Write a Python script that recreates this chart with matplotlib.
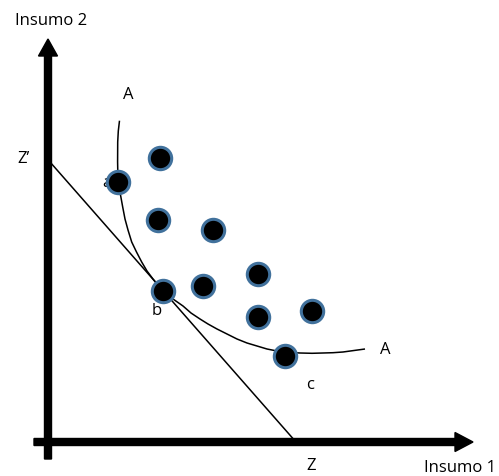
import matplotlib
matplotlib.use("Agg")
import matplotlib.pyplot as plt
from matplotlib.patches import FancyArrow

# --- data (diagram coordinates; y grows downward) ---
dot_x = [160, 118, 158, 213, 258, 203, 163, 258, 312, 285]
dot_y = [159, 183, 221, 231, 275, 287, 292, 318, 312, 357]

curve_x = [119.5, 118.3, 117.7, 117.6, 118, 119.2, 120.7, 122.7, 125, 128, 131.7, 136.5,
           141.7, 147, 153, 158, 163, 173, 183, 191, 200, 208, 217, 227, 237, 247, 257,
           267, 277, 288, 300, 312, 323, 333, 343, 354, 365]
curve_y = [121.7, 132, 143, 163, 183, 190, 197, 208, 220, 231, 243, 253, 263, 272, 280,
           286, 292, 300, 307, 314, 320, 325, 330, 335, 340, 344, 347, 350, 352, 353.3,
           354, 354.3, 354, 353.7, 353, 351.5, 350]

budget_x = [50, 296]
budget_y = [163, 443]

labels = ["Insumo 2", "Insumo 1", "A", "A", "Z\u2019", "Z", "a", "b", "c"]
label_x = [51, 460, 128, 385, 24, 311, 107, 157, 310]
label_y = [21, 468, 95, 350, 159, 466, 183, 311, 385]

fig = plt.figure(figsize=(4.99, 4.77), dpi=100)
ax = fig.add_axes([0, 0, 1, 1])
ax.set_xlim(0, 499)
ax.set_ylim(477, 0)
ax.axis("off")

font = ["Open Sans", "DejaVu Sans"]

# axes arrows
ax.add_patch(FancyArrow(48, 460, 0, 40 - 460, width=7, head_width=19, head_length=17,
                        length_includes_head=True, color="black", zorder=2))
ax.add_patch(FancyArrow(34, 443, 473 - 34, 0, width=7, head_width=19, head_length=18,
                        length_includes_head=True, color="black", zorder=2))

# budget line and isoquant
ax.plot(budget_x, budget_y, color="black", lw=1.1, zorder=3)
ax.plot(curve_x, curve_y, color="black", lw=1.1, zorder=3, solid_capstyle="butt",
        solid_joinstyle="round")

# text labels (drawn below dots)
for t, x, y in zip(labels, label_x, label_y):
    ax.text(x, y, t, ha="center", va="center", fontsize=12, family=font, zorder=4)

# dots
ax.scatter(dot_x, dot_y, s=260, facecolor="black", edgecolor="#41719C",
           linewidths=2.2, zorder=5)

fig.savefig("out.png", dpi=100)
